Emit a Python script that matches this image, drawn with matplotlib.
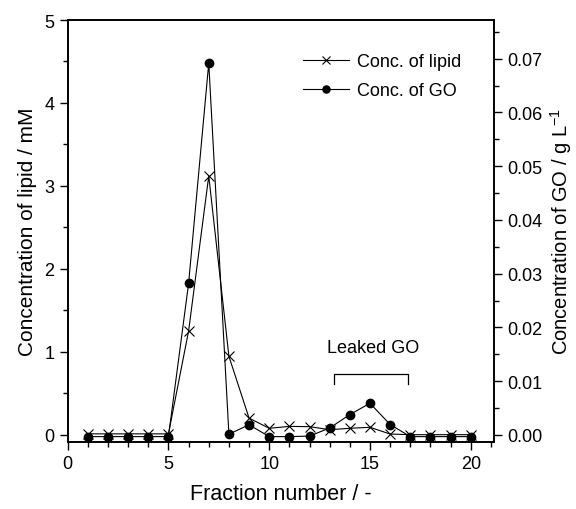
import numpy as np
import matplotlib
matplotlib.use('Agg')
import matplotlib.pyplot as plt
from matplotlib.ticker import MultipleLocator

plt.rcParams['font.family'] = ['Liberation Sans', 'DejaVu Sans']
plt.rcParams['mathtext.fontset'] = 'custom'
plt.rcParams['mathtext.rm'] = 'Liberation Sans'

fraction = np.arange(1, 21)
lipid = [0.01, 0.01, 0.01, 0.01, 0.01, 1.25, 3.12, 0.945, 0.20, 0.077,
         0.10, 0.097, 0.06, 0.077, 0.089, 0.008, 0.0, 0.0, 0.0, 0.0]
go = [-0.0003, -0.0003, -0.0003, -0.0003, -0.0003, 0.0282, 0.0692, 0.00015, 0.0019, -0.0003,
      -0.0003, -0.0002, 0.0013, 0.0038, 0.0059, 0.00195, -0.0003, -0.0003, -0.0003, -0.0003]

fig = plt.figure(figsize=(5.76, 5.10), dpi=100)
ax = fig.add_axes([0.1175, 0.1314, 0.74, 0.8274])
ax2 = ax.twinx()

l1, = ax.plot(fraction, lipid, color='black', lw=0.8, marker='x', ms=7, mew=0.8,
              label='Conc. of lipid')
l2, = ax2.plot(fraction, go, color='black', lw=0.8, marker='o', ms=6,
               label='Conc. of GO')

ax.set_xlim(0, 21.15)
ax.set_ylim(-0.088, 5.0)
ax2.set_ylim(-0.0013, 0.0772)

ax.xaxis.set_major_locator(MultipleLocator(5))
ax.xaxis.set_minor_locator(MultipleLocator(1))
ax.yaxis.set_major_locator(MultipleLocator(1))
ax.yaxis.set_minor_locator(MultipleLocator(0.5))
ax2.yaxis.set_major_locator(MultipleLocator(0.01))
ax2.yaxis.set_minor_locator(MultipleLocator(0.005))
ax2.yaxis.set_major_formatter(plt.FormatStrFormatter('%.2f'))

for a in (ax, ax2):
    a.tick_params(which='major', direction='out', length=6, width=1, labelsize=13)
    a.tick_params(which='minor', direction='out', length=3.5, width=1)
    for s in a.spines.values():
        s.set_linewidth(1.2)

ax.set_xlabel('Fraction number / -', fontsize=15.5, labelpad=8)
ax.set_ylabel('Concentration of lipid / mM', fontsize=15, labelpad=5)
ax2.set_ylabel(r'Concentration of GO / g L$^{\mathrm{-1}}$', fontsize=14.5, labelpad=4)

# leaked GO bracket
ax.plot([13.23, 13.23, 16.9, 16.9], [0.61, 0.736, 0.736, 0.61], color='black', lw=0.9)
ax.text(15.15, 1.05, 'Leaked GO', ha='center', va='center', fontsize=13)

ax2.legend(handles=[l1, l2], loc='upper left', bbox_to_anchor=(0.515, 0.96),
           frameon=False, fontsize=13, handlelength=2.5, handletextpad=0.45,
           labelspacing=0.65, markerscale=0.85)

fig.savefig('out.png', dpi=100)
